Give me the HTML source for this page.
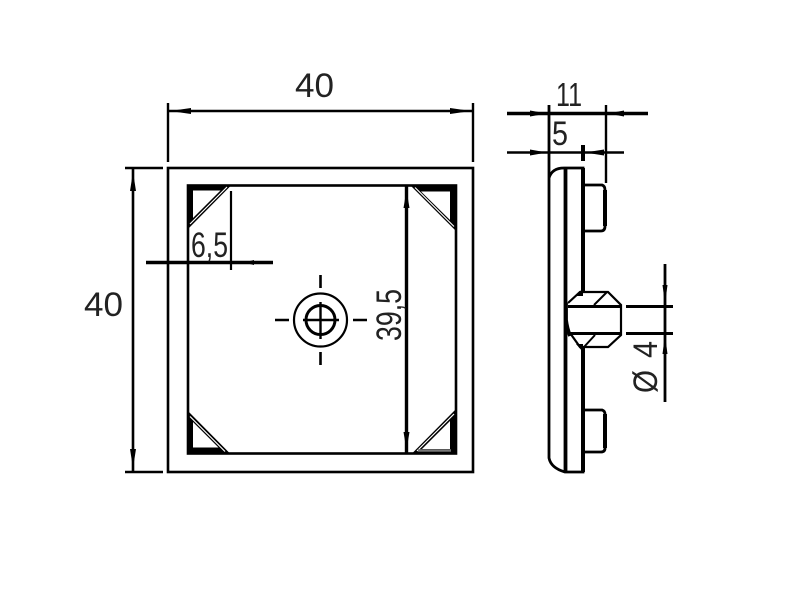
<!DOCTYPE html>
<html><head><meta charset="utf-8"><style>html,body{margin:0;padding:0;background:#fff}svg{display:block}text{font-family:"Liberation Sans",sans-serif;fill:#222}</style></head>
<body>
<svg width="800" height="600" viewBox="0 0 800 600" xmlns="http://www.w3.org/2000/svg">
<g fill="none" stroke="#000" stroke-width="2.6">
<!-- front view -->
<rect x="168" y="168" width="305" height="304"/>
<rect x="188" y="185.500" width="268" height="268"/>
<path d="M168 103V162M473 103V162M168 111H473" stroke-width="2.400"/>
<path d="M125 168H163M125 472H163M133 168V472" stroke-width="2.600"/>
<path d="M146 262.500H273" stroke-width="3.500"/>
<path d="M231 191V270" stroke-width="2.200"/>
<path d="M406.500 186V454" stroke-width="3.400"/>
<!-- centre -->
<circle cx="320.500" cy="320" r="26.500" stroke-width="2.200"/>
<circle cx="320.500" cy="320" r="14.500" stroke-width="3"/>
<path d="M320.500 302V339M303 320H339" stroke-width="2.400"/>
<path d="M320.500 275V288M320.500 352V365M275 320H289M353 320H367" stroke-width="2.600"/>
<!-- side view -->
<path d="M549 105V178M549 178V458Q551 468 565 472H583V168H564Q552 168 549 178" stroke-width="2.800"/>
<path d="M565.500 168V472" stroke-width="3.800"/>
<path d="M583 168V472" stroke-width="4"/>
<path d="M606 105V183" stroke-width="2.400"/>
<path d="M507 113.500H648" stroke-width="3.600"/>
<path d="M507 152.500H624" stroke-width="2.400"/>
<path d="M583 145V161" stroke-width="4"/>
<path d="M584 185H602Q605 186 605 190V226Q605 231 601 231H584" stroke-width="2.800"/>
<path d="M584 410H602Q605 411 605 414V448Q605 452 601 452H584" stroke-width="2.800"/>
<path d="M605 190V226M605 414V448" stroke-width="4"/>
</g>
<!-- bump -->
<path d="M568 303L580 292H608L621 305V335L608 347H580L570 333Z" fill="#fff" stroke="none"/>
<g fill="none" stroke="#000">
<path d="M568 303L580 292H608L621 305V335L608 347H580L570 333" stroke-width="2.200"/>
<path d="M568 306.500H621M568 333.500H621" stroke-width="3"/>
<path d="M594 305L607 292M584 347L595 335" stroke-width="2"/>
<path d="M566 303V320Q567 328 570 336" stroke-width="3.800"/>
<path d="M626 306.500H673M626 333.500H673" stroke-width="3"/>
<path d="M665 264V402" stroke-width="2.800"/>
</g>
<path d="M576 296L583 288V296ZM576 344L583 352V344Z" fill="#000"/>
<!-- corner triangles -->
<g fill="#000" fill-rule="evenodd">
<path d="M187 184.500H232L187 230ZM193 190.500V218L220.500 190.500Z"/>
<path d="M457 184.500H409.500L457 232ZM450 191.500V220L421 191.500Z"/>
<path d="M187 410L231 454.500H187ZM193 422V447.500H218.500Z"/>
<path d="M457 408L411 454.500H457ZM450 421V449H422Z"/>
</g>
<g stroke="#fff" stroke-width="1.200" fill="none">
<path d="M227 187L190 224M415 187.500L454 226.500M190 416.500L225 451.500M454 414L417 451"/>
</g>
<path d="M418 450.500H451" stroke="#777" stroke-width="2.400"/>
<!-- arrowheads -->
<g fill="#000">
<path d="M170 111L191 108V114Z"/>
<path d="M471 111L450 108V114Z"/>
<path d="M133 172L130 191H136Z"/>
<path d="M133 468L130 449H136Z"/>
<path d="M244 262.500L254 260V265Z"/>
<path d="M406.500 190L403.500 208H409.500Z"/>
<path d="M406.500 450L403.500 432H409.500Z"/>
<path d="M547 113.500L530 110.500V116.500Z"/>
<path d="M608 113.500L624 110.500V116.500Z"/>
<path d="M547 152.500L530 149.500V155.500Z"/>
<path d="M585 152.500L604 149.500V155.500Z"/>
<path d="M665 304L662.500 285H667.500Z"/>
<path d="M665 335L662.500 354H667.500Z"/>
</g>
<!-- labels -->
<text x="295" y="97" font-size="34" textLength="39" lengthAdjust="spacingAndGlyphs">40</text>
<text x="84" y="316" font-size="34" textLength="39" lengthAdjust="spacingAndGlyphs">40</text>
<text x="191" y="257" font-size="35" textLength="37" lengthAdjust="spacingAndGlyphs">6,5</text>
<text transform="translate(401,341) rotate(-90)" font-size="35" textLength="52" lengthAdjust="spacingAndGlyphs">39,5</text>
<text x="556" y="106" font-size="33" textLength="26" lengthAdjust="spacingAndGlyphs">11</text>
<text x="552" y="145" font-size="34" textLength="16" lengthAdjust="spacingAndGlyphs">5</text>
<text transform="translate(657,358) rotate(-90)" font-size="34" textLength="17" lengthAdjust="spacingAndGlyphs">4</text>
<text transform="translate(657,393) rotate(-90)" font-size="34" textLength="23" lengthAdjust="spacingAndGlyphs">Ø</text>
</svg>
</body></html>
